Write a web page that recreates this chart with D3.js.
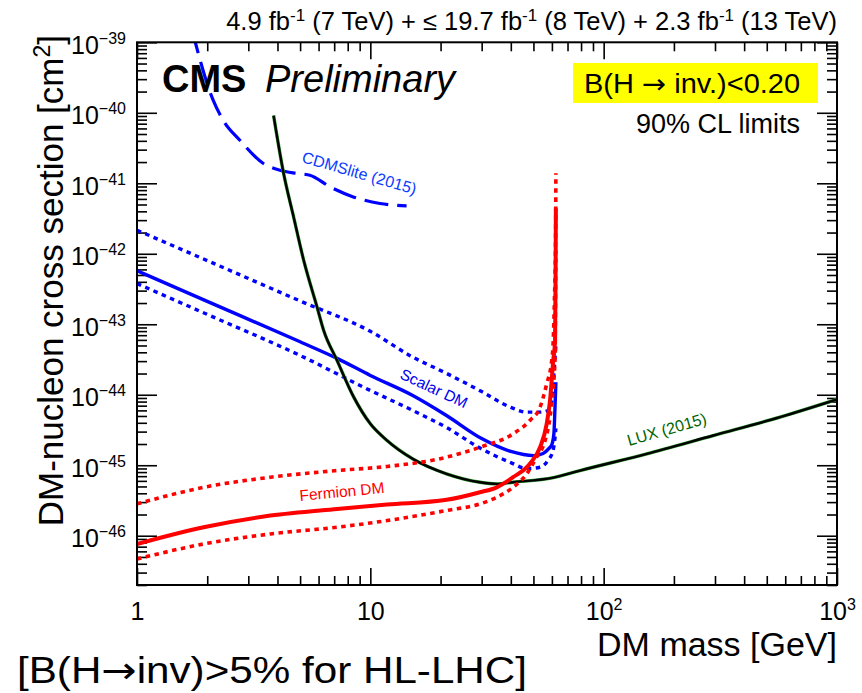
<!DOCTYPE html>
<html>
<head>
<meta charset="utf-8">
<script src="https://cdn.jsdelivr.net/npm/d3@7"></script>
<style>
  body { margin: 0; background: #fff; }
  svg { display: block; }
  text { font-family: "Liberation Sans", Arial, Helvetica, sans-serif; white-space: pre; }
</style>
</head>
<body>
<svg id="chart" width="862" height="693"></svg>
<script>
// ---- Limits on the spin-independent DM-nucleon cross section (cm^2) vs DM mass (GeV) ----

// Scalar DM (Higgs portal): observed limit and its band edges
const scalarMass = [1, 2, 5, 7.2, 10, 15.2, 21.2, 30, 40, 50, 55, 58.3, 60, 61.2, 61.8, 62.4];
const scalarObs  = [5.74e-43, 2.11e-43, 5.64e-44, 3.28e-44, 1.88e-44, 9.77e-45, 5.08e-45, 2.39e-45,
                    1.57e-45, 1.37e-45, 1.47e-45, 1.73e-45, 1.97e-45, 2.82e-45, 5.98e-45, 1.50e-44];
const scalarUpMass = [1, 2, 5, 10, 15.2, 21.2, 30, 40, 46.9, 53.4, 57.7, 60, 61.2, 62.4];
const scalarUp     = [2.16e-42, 8.0e-43, 2.14e-43, 7.93e-44, 3.42e-44, 2.01e-44, 1.11e-44, 6.61e-45,
                      5.66e-45, 5.66e-45, 5.98e-45, 8.30e-45, 2.01e-44, 5.01e-44];
const scalarDownMass = [1, 2, 5, 10, 15.2, 21.2, 30, 40, 46.9, 53.4, 57.7, 60.7, 61.9, 62.4];
const scalarDown     = [3.78e-43, 1.38e-43, 3.61e-44, 1.15e-44, 5.98e-45, 3.43e-45, 1.70e-45, 1.09e-45,
                        8.97e-46, 9.37e-46, 1.17e-45, 1.62e-45, 2.48e-45, 3.33e-45];

// Fermion DM (Higgs portal): observed limit and its band edges
const fermionMass = [1, 1.93, 3.73, 7.2, 11.8, 21.2, 29.5, 34.8, 40.9, 48.3, 53.4, 57.0, 58.9, 60.8, 61.9, 62.2, 62.4];
const fermionObs  = [7.64e-47, 1.32e-46, 1.93e-46, 2.40e-46, 2.77e-46, 3.23e-46, 4.14e-46, 4.86e-46,
                     6.76e-46, 1.05e-45, 1.80e-45, 3.87e-45, 8.30e-45, 3.07e-44, 5.90e-44, 4.21e-43, 4.43e-42];
const fermionUpMass = [1, 1.93, 3.73, 7.2, 11.8, 21.2, 29.5, 40.9, 48.3, 53.4, 57.0, 59.9, 60.8, 61.5, 62.2, 62.4];
const fermionUp     = [2.83e-46, 4.86e-46, 6.76e-46, 8.41e-46, 9.60e-46, 1.30e-45, 1.80e-45, 2.79e-45,
                       4.32e-45, 6.67e-45, 1.43e-44, 3.07e-44, 5.90e-44, 2.19e-43, 1.56e-42, 1.39e-41];
const fermionDownMass = [1, 1.93, 3.73, 7.2, 11.8, 21.2, 29.5, 34.8, 40.9, 46.8, 51.6, 56.1, 58.9, 60.8, 61.9, 62.2, 62.35];
const fermionDown     = [4.68e-47, 7.64e-47, 1.06e-46, 1.32e-46, 1.64e-46, 2.28e-46, 2.83e-46, 3.51e-46,
                         4.86e-46, 7.55e-46, 1.30e-45, 2.24e-45, 4.81e-45, 1.28e-44, 3.42e-44, 2.19e-43, 1.12e-42];

// Direct-detection results
const luxMass = [3.85, 4.25, 4.69, 5.18, 5.91, 6.31, 7.2, 8.49, 10, 11.8, 15.2, 21.2, 29.5, 34.8, 40.9,
                 60.9, 79.2, 153, 295, 570, 1000];
const luxLimit = [9.12e-41, 1.38e-41, 3.33e-42, 8.09e-43, 1.76e-43, 8.18e-44, 3.07e-44, 9.25e-45, 3.87e-45,
                  2.24e-45, 1.23e-45, 7.55e-46, 5.74e-46, 5.44e-46, 5.74e-46, 6.68e-46, 8.41e-46,
                  1.45e-45, 2.64e-45, 4.81e-45, 8.57e-45];
const cdmsMass = [1.72, 2.12, 2.34, 2.76, 3.48, 4.10, 4.84, 5.51, 6.72, 8.45, 11.0, 14.3];
const cdmsLimit = [1.5e-39, 1.51e-40, 7.85e-41, 4.08e-41, 1.91e-41, 1.53e-41, 1.38e-41, 1.30e-41,
                   8.89e-42, 6.41e-42, 5.16e-42, 4.78e-42];

// Axis ticks
const xMajor = [1, 10, 100, 1000];
const xMajorLabels = [["1", ""], ["10", ""], ["10", "2"], ["10", "3"]];
const yExponents = [-46, -45, -44, -43, -42, -41, -40, -39];

// Text
const lumiParts = [["4.9 fb", false], ["-1", true], [" (7 TeV) + \u2264 19.7 fb", false], ["-1", true],
                   [" (8 TeV) + 2.3 fb", false], ["-1", true], [" (13 TeV)", false]];
const xTitle = "DM mass [GeV]";
const yTitle = "DM-nucleon cross section [cm";
const brLabelParts = ["B(H ", "\u2192", " inv.)<0.20"];
const clLabel = "90% CL limits";
const footnoteParts = ["[B(H", "\u2192", "inv)>5% for HL-LHC]"];

// ---- layout ----
const L = 137, R = 837, T = 42.3, B = 585;
const svg = d3.select("#chart");
svg.append("rect").attr("width", 862).attr("height", 693).attr("fill", "#fff");

const x = d3.scaleLog().domain([1, 1000]).range([L, R]);
const y = d3.scaleLog().domain([2e-47, 1e-39]).range([B, T]);

const zip = (a, b) => a.map((v, i) => [v, b[i]]);

// minor tick positions
const xMinor = [];
for (let e = 0; e < 3; e++) for (let k = 2; k <= 9; k++) xMinor.push(+(k + "e" + e));
const yMinor = [];
for (let e = -47; e <= -40; e++) for (let k = 2; k <= 9; k++) {
  const v = +(k + "e" + e);
  if (v >= 2e-47 && v <= 1e-39) yMinor.push(v);
}
const yMajor = yExponents.map(e => +("1e" + e));

function axisStyle(g) {
  g.select(".domain").remove();
  g.selectAll(".tick line").attr("stroke", "#000").attr("stroke-width", 1.6);
}

// bottom axis with labels
const gB = svg.append("g").attr("transform", `translate(0,${B})`)
  .call(d3.axisBottom(x).tickValues(xMajor).tickSizeInner(-17).tickSizeOuter(0).tickPadding(17).tickFormat(""))
  .call(axisStyle);
gB.selectAll(".tick text").each(function (d, i) {
  const t = d3.select(this).attr("font-size", 25).attr("fill", "#000").attr("font-family", null);
  t.append("tspan").text(xMajorLabels[i][0]);
  if (xMajorLabels[i][1]) t.append("tspan").attr("dy", -10).attr("font-size", 16).text(xMajorLabels[i][1]);
});
svg.append("g").attr("transform", `translate(0,${B})`)
  .call(d3.axisBottom(x).tickValues(xMinor).tickSizeInner(-9).tickSizeOuter(0).tickFormat(""))
  .call(axisStyle);

// top axis
svg.append("g").attr("transform", `translate(0,${T})`)
  .call(d3.axisTop(x).tickValues(xMajor).tickSizeInner(-17).tickSizeOuter(0).tickFormat(""))
  .call(axisStyle);
svg.append("g").attr("transform", `translate(0,${T})`)
  .call(d3.axisTop(x).tickValues(xMinor).tickSizeInner(-9).tickSizeOuter(0).tickFormat(""))
  .call(axisStyle);

// left axis with labels
const gL = svg.append("g").attr("transform", `translate(${L},0)`)
  .call(d3.axisLeft(y).tickValues(yMajor).tickSizeInner(-20).tickSizeOuter(0).tickPadding(11).tickFormat(""))
  .call(axisStyle);
gL.selectAll(".tick text").each(function (d, i) {
  const t = d3.select(this).attr("font-size", 25).attr("fill", "#000").attr("dy", "0.44em").attr("font-family", null);
  t.append("tspan").text("10");
  t.append("tspan").attr("dy", -10).attr("font-size", 16).text("\u2212" + (-yExponents[i]));
});
svg.append("g").attr("transform", `translate(${L},0)`)
  .call(d3.axisLeft(y).tickValues(yMinor).tickSizeInner(-10).tickSizeOuter(0).tickFormat(""))
  .call(axisStyle);

// right axis
svg.append("g").attr("transform", `translate(${R},0)`)
  .call(d3.axisRight(y).tickValues(yMajor).tickSizeInner(-20).tickSizeOuter(0).tickFormat(""))
  .call(axisStyle);
svg.append("g").attr("transform", `translate(${R},0)`)
  .call(d3.axisRight(y).tickValues(yMinor).tickSizeInner(-10).tickSizeOuter(0).tickFormat(""))
  .call(axisStyle);

// ---- curves ----
svg.append("clipPath").attr("id", "plotArea")
  .append("rect").attr("x", L).attr("y", T).attr("width", R - L).attr("height", B - T);
const plot = svg.append("g").attr("clip-path", "url(#plotArea)");
const line = d3.line().x(d => x(d[0])).y(d => y(d[1])).curve(d3.curveMonotoneX);

function draw(points, color, width, dash) {
  plot.append("path").datum(points).attr("d", line)
    .attr("fill", "none").attr("stroke", color).attr("stroke-width", width)
    .attr("stroke-dasharray", dash || null);
}

draw(zip(cdmsMass, cdmsLimit), "#0000ff", 3.2, "24,9");
draw(zip(scalarUpMass, scalarUp), "#0000ff", 3.4, "4.5,4.5");
draw(zip(scalarDownMass, scalarDown), "#0000ff", 3.4, "4.5,4.5");
draw(zip(scalarMass, scalarObs), "#0000ff", 3.4);
draw(zip(luxMass, luxLimit), "#2f9a2f", 3.4);
draw(zip(luxMass, luxLimit), "#000000", 2.4);
draw(zip(fermionUpMass, fermionUp), "#ff0000", 3.6, "4.5,4.5");
draw(zip(fermionDownMass, fermionDown), "#ff0000", 3.6, "4.5,4.5");
draw(zip(fermionMass, fermionObs), "#ff0000", 4);

// frame
svg.append("rect").attr("x", L).attr("y", T).attr("width", R - L).attr("height", B - T)
  .attr("fill", "none").attr("stroke", "#000").attr("stroke-width", 2);

// ---- curve labels ----
function curveLabel(txt, px, py, angle, size, color) {
  svg.append("text").attr("transform", `translate(${px},${py}) rotate(${angle})`)
    .attr("font-size", size).attr("fill", color).text(txt);
}
curveLabel("CDMSlite (2015)", 301, 162, 16, 16, "#0a3cff");
curveLabel("Scalar DM", 399, 378, 25, 15.5, "#0000ee");
curveLabel("Fermion DM", 300, 501, -5.5, 15.5, "#ff0000");
curveLabel("LUX (2015)", 629, 446, -16, 16, "#006400");

// ---- header and annotations ----
const lumi = svg.append("text").attr("x", R).attr("y", 30).attr("text-anchor", "end").attr("font-size", 25.5);
lumiParts.forEach(([s, sup], i) => {
  const ts = lumi.append("tspan").text(s);
  if (sup) ts.attr("dy", -9).attr("font-size", 17);
  else if (i > 0) ts.attr("dy", 9);
});

svg.append("text").attr("x", 162).attr("y", 92).attr("font-size", 38).attr("font-weight", "bold").text("CMS");
svg.append("text").attr("x", 265).attr("y", 92).attr("font-size", 38).attr("font-style", "italic").text("Preliminary");

// text with a wide arrow glyph in the middle
function arrowText(parts, px, py, size, totalWidth) {
  const t = svg.append("text").attr("x", px).attr("y", py).attr("font-size", size)
    .attr("textLength", totalWidth).attr("lengthAdjust", "spacingAndGlyphs");
  parts.forEach((s, i) => {
    const ts = t.append("tspan").text(s);
    if (i === 1) ts.attr("font-family", "'DejaVu Sans', sans-serif");
  });
  return t;
}

svg.append("rect").attr("x", 573).attr("y", 63).attr("width", 245).attr("height", 40).attr("fill", "#ffff00");
arrowText(brLabelParts, 584, 93, 27, 216);
svg.append("text").attr("x", 800).attr("y", 133).attr("text-anchor", "end").attr("font-size", 27).text(clLabel);

// axis titles
svg.append("text").attr("x", R).attr("y", 656).attr("text-anchor", "end").attr("font-size", 34).text(xTitle);
const yt = svg.append("text").attr("transform", `translate(63,35) rotate(-90)`)
  .attr("text-anchor", "end").attr("font-size", 35);
yt.append("tspan").text(yTitle);
yt.append("tspan").attr("dy", -13).attr("font-size", 23).text("2");
yt.append("tspan").attr("dy", 13).text("]");

// footnote
arrowText(footnoteParts, 17, 683, 37, 510);
</script>
</body>
</html>
